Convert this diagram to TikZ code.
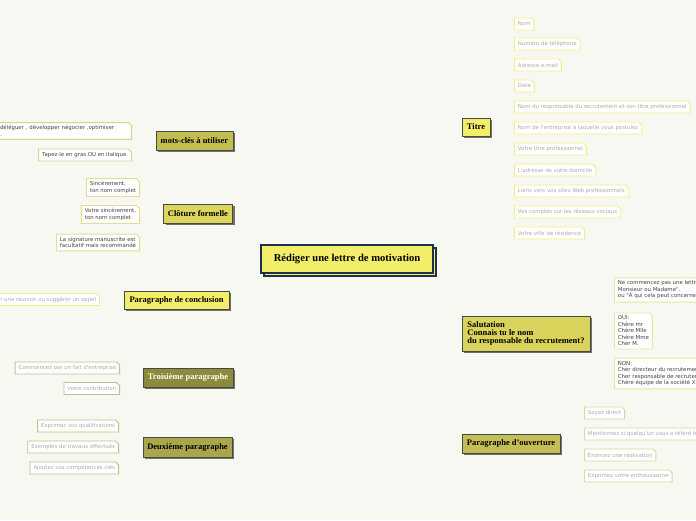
\documentclass[tikz,border=0pt]{standalone}
\usepackage{fontspec}
\setmainfont{Liberation Serif}
\newfontfamily\leaffont{DejaVu Sans}
\usetikzlibrary{shapes.misc,shadows,backgrounds}
\definecolor{bgc}{HTML}{F8F8F3}
\definecolor{cyel}{HTML}{F2EE6A}
\definecolor{csal}{HTML}{D9D35B}
\definecolor{couv}{HTML}{C4BF55}
\definecolor{cmots}{HTML}{C4BE52}
\definecolor{cclo}{HTML}{DCD65E}
\definecolor{ctro}{HTML}{8E8A3C}
\definecolor{cdeux}{HTML}{AAA64C}
\definecolor{hdborder}{HTML}{474B47}
\definecolor{navy}{HTML}{1F2F4F}
\definecolor{shadowc}{HTML}{6E7366}
\definecolor{ltitre}{HTML}{F2EE80}
\definecolor{lsal}{HTML}{ECE59A}
\definecolor{louv}{HTML}{DCD79A}
\definecolor{lmots}{HTML}{D8D38A}
\definecolor{lclo}{HTML}{E4DF8E}
\definecolor{lconc}{HTML}{F1EC8E}
\definecolor{ltro}{HTML}{C3C08E}
\definecolor{ldeux}{HTML}{C5C17A}
\definecolor{txlight}{HTML}{ABABAB}
\definecolor{txdark}{HTML}{444444}
\begin{document}
\begin{tikzpicture}[x=1pt,y=-1pt,
  head/.style={draw=hdborder, line width=0.7pt, inner sep=2pt, text=black,
    font=\bfseries\fontsize{8.5}{8.3}\selectfont,
    drop shadow={shadow xshift=2pt, shadow yshift=-2pt, fill=shadowc, opacity=1}},
  leaf/.style={chamfered rectangle, chamfered rectangle corners=north east,
    chamfered rectangle sep=1.5pt, draw=#1, fill=white, line width=0.9pt,
    font=\leaffont\fontsize{5.4}{6.5}\selectfont, inner xsep=2pt, inner ysep=1.5pt,
    minimum height=12pt, align=left},
  mainline/.style={draw=#1, line width=1pt},
  leafline/.style={draw=#1, line width=0.7pt}
]
\fill[bgc] (0,0) rectangle (696,520);
\useasboundingbox (0,0) rectangle (696,520);

% central node
\node[draw=navy, fill=cyel, line width=1.1pt, minimum width=172pt, minimum height=28pt,
  font=\bfseries\fontsize{10.6}{12}\selectfont,
  copy shadow={shadow xshift=3pt, shadow yshift=-3pt}] (c) at (347,259) {Rédiger une lettre de motivation};

% main branches
\node[head, fill=cyel, minimum width=28pt, minimum height=18pt] (t) at (476,127) {Titre};
\node[head, fill=csal, minimum width=128pt, minimum height=35pt, align=left] (s) at (526,333.5)
  {Salutation\\Connais tu le nom\\du responsable du recrutement?};
\node[head, fill=couv, minimum width=98pt, minimum height=19pt] (o) at (511,443.5) {Paragraphe d'ouverture};
\node[head, fill=cmots, minimum width=77pt, minimum height=19pt] (m) at (194.5,140.5) {mots-clés à utiliser};
\node[head, fill=cclo, minimum width=69pt, minimum height=19pt] (cl) at (198,213.5) {Clôture formelle};
\node[head, fill=cyel, minimum width=105pt, minimum height=18pt] (pc) at (176.5,300) {Paragraphe de conclusion};
\node[head, fill=ctro, text=white, minimum width=90pt, minimum height=19pt] (tr) at (188,377.5) {Troisième paragraphe};
\node[head, fill=cdeux, minimum width=89pt, minimum height=20pt] (dx) at (187.5,447) {Deuxième paragraphe};

% Titre leaves
\begin{scope}[every node/.append style={text=txlight, anchor=west}]
\node[leaf=ltitre] (t1) at (514,24) {Nom};
\node[leaf=ltitre] (t2) at (514,44) {Numéro de téléphone};
\node[leaf=ltitre] (t3) at (514,65) {Adresse e-mail};
\node[leaf=ltitre] (t4) at (514,86) {Date};
\node[leaf=ltitre] (t5) at (514,107) {Nom du responsable du recrutement et son titre professionnel};
\node[leaf=ltitre] (t6) at (514,128) {Nom de l'entreprise à laquelle vous postulez};
\node[leaf=ltitre] (t7) at (514,149) {Votre titre professionnel};
\node[leaf=ltitre] (t8) at (514,170) {L'adresse de votre domicile};
\node[leaf=ltitre] (t9) at (514,191) {Liens vers vos sites Web professionnels};
\node[leaf=ltitre] (t10) at (514,212) {Vos comptes sur les réseaux sociaux};
\node[leaf=ltitre] (t11) at (514,233) {Votre ville de résidence};
% ouverture leaves
\node[leaf=louv] (o1) at (584,413) {Soyez direct};
\node[leaf=louv] (o2) at (584,434) {Mentionnez si quelqu'un vous a référé le poste};
\node[leaf=louv] (o3) at (584,455) {Énoncez une réalisation};
\node[leaf=louv] (o4) at (584,476) {Exprimez votre enthousiasme};
\end{scope}
% salutation leaves
\begin{scope}[every node/.append style={text=txdark, anchor=west}]
\node[leaf=lsal] (s1) at (614,290) {Ne commencez pas une lettre par "Cher\\Monsieur ou Madame".\\ou "À qui cela peut concerner".};
\node[leaf=lsal] (s2) at (614,331) {OUI:\\Chère mr\\Chère Mlle\\Chère Mme\\Cher M.};
\node[leaf=lsal] (s3) at (614,373.5) {NON:\\Cher directeur du recrutement\\Cher responsable de recrutement\\Chère équipe de la société X};
\end{scope}
% left leaves
\begin{scope}[every node/.append style={anchor=east}]
\node[leaf=lmots, text=txdark, text width=128pt] (m1) at (132,131) {déléguer , développer négocier ,optimiser\\.};
\node[leaf=lmots, text=txdark] (m2) at (132,155) {Tapez-le en gras OU en italique.};
\node[leaf=lclo, text=txdark] (cl1) at (140,187.5) {Sincèrement,\\ton nom complet};
\node[leaf=lclo, text=txdark] (cl2) at (140,214.5) {Votre sincèrement,\\ton nom complet};
\node[leaf=lclo, text=txdark] (cl3) at (140,242.5) {La signature manuscrite est\\facultatif mais recommandé};
\node[leaf=lconc, text=txlight] (pc1) at (100,299.5) {Demander une réunion ou suggérer un appel};
\node[leaf=ltro, text=txlight] (tr1) at (120,368) {Commencez par un fait d'entreprise};
\node[leaf=ltro, text=txlight] (tr2) at (120,388.5) {Votre contribution};
\node[leaf=ldeux, text=txlight] (dx1) at (119,426) {Exprimez vos qualifications};
\node[leaf=ldeux, text=txlight] (dx2) at (119,447) {Exemples de travaux effectués};
\node[leaf=ldeux, text=txlight] (dx3) at (119,468) {Ajoutez vos compétences clés};
\end{scope}

\begin{scope}[on background layer]
\fill[bgc] (0,0) rectangle (696,520);
% main connectors
\draw[mainline=ltitre] (c.center) -- (366,0 |- t.west) -- (t.west);
\draw[mainline=lsal] (c.center) -- (366,0 |- s.west) -- (s.west);
\draw[mainline=louv] (c.center) -- (366,0 |- o.west) -- (o.west);
\draw[mainline=lmots] (c.center) -- (332,0 |- m.east) -- (m.east);
\draw[mainline=lclo] (c.center) -- (332,0 |- cl.east) -- (cl.east);
\draw[mainline=lconc] (c.center) -- (331,0 |- pc.east) -- (pc.east);
\draw[mainline=ltro] (c.center) -- (332,0 |- tr.east) -- (tr.east);
\draw[mainline=ldeux] (c.center) -- (332,0 |- dx.east) -- (dx.east);
% leaf connectors
\foreach \n in {t1,t2,t3,t4,t5,t6,t7,t8,t9,t10,t11}
  \draw[leafline=ltitre] (t.east) -- (498,0 |- t.east) -- (506,0 |- \n.west) -- (\n.west);
\foreach \n in {s1,s2,s3}
  \draw[leafline=lsal] (s.east) -- (598,0 |- s.east) -- (608,0 |- \n.west) -- (\n.west);
\foreach \n in {o1,o2,o3,o4}
  \draw[leafline=louv] (o.east) -- (568,0 |- o.east) -- (576,0 |- \n.west) -- (\n.west);
\foreach \n in {m1,m2}
  \draw[leafline=lmots] (m.west) -- (147,0 |- m.west) -- (140,0 |- \n.east) -- (\n.east);
\foreach \n in {cl1,cl2,cl3}
  \draw[leafline=lclo] (cl.west) -- (156,0 |- cl.west) -- (148,0 |- \n.east) -- (\n.east);
\draw[leafline=lconc] (pc.west) -- (pc1.east);
\foreach \n in {tr1,tr2}
  \draw[leafline=ltro] (tr.west) -- (137,0 |- tr.west) -- (128,0 |- \n.east) -- (\n.east);
\foreach \n in {dx1,dx2,dx3}
  \draw[leafline=ldeux] (dx.west) -- (136,0 |- dx.west) -- (128,0 |- \n.east) -- (\n.east);
\end{scope}
\end{tikzpicture}
\end{document}
